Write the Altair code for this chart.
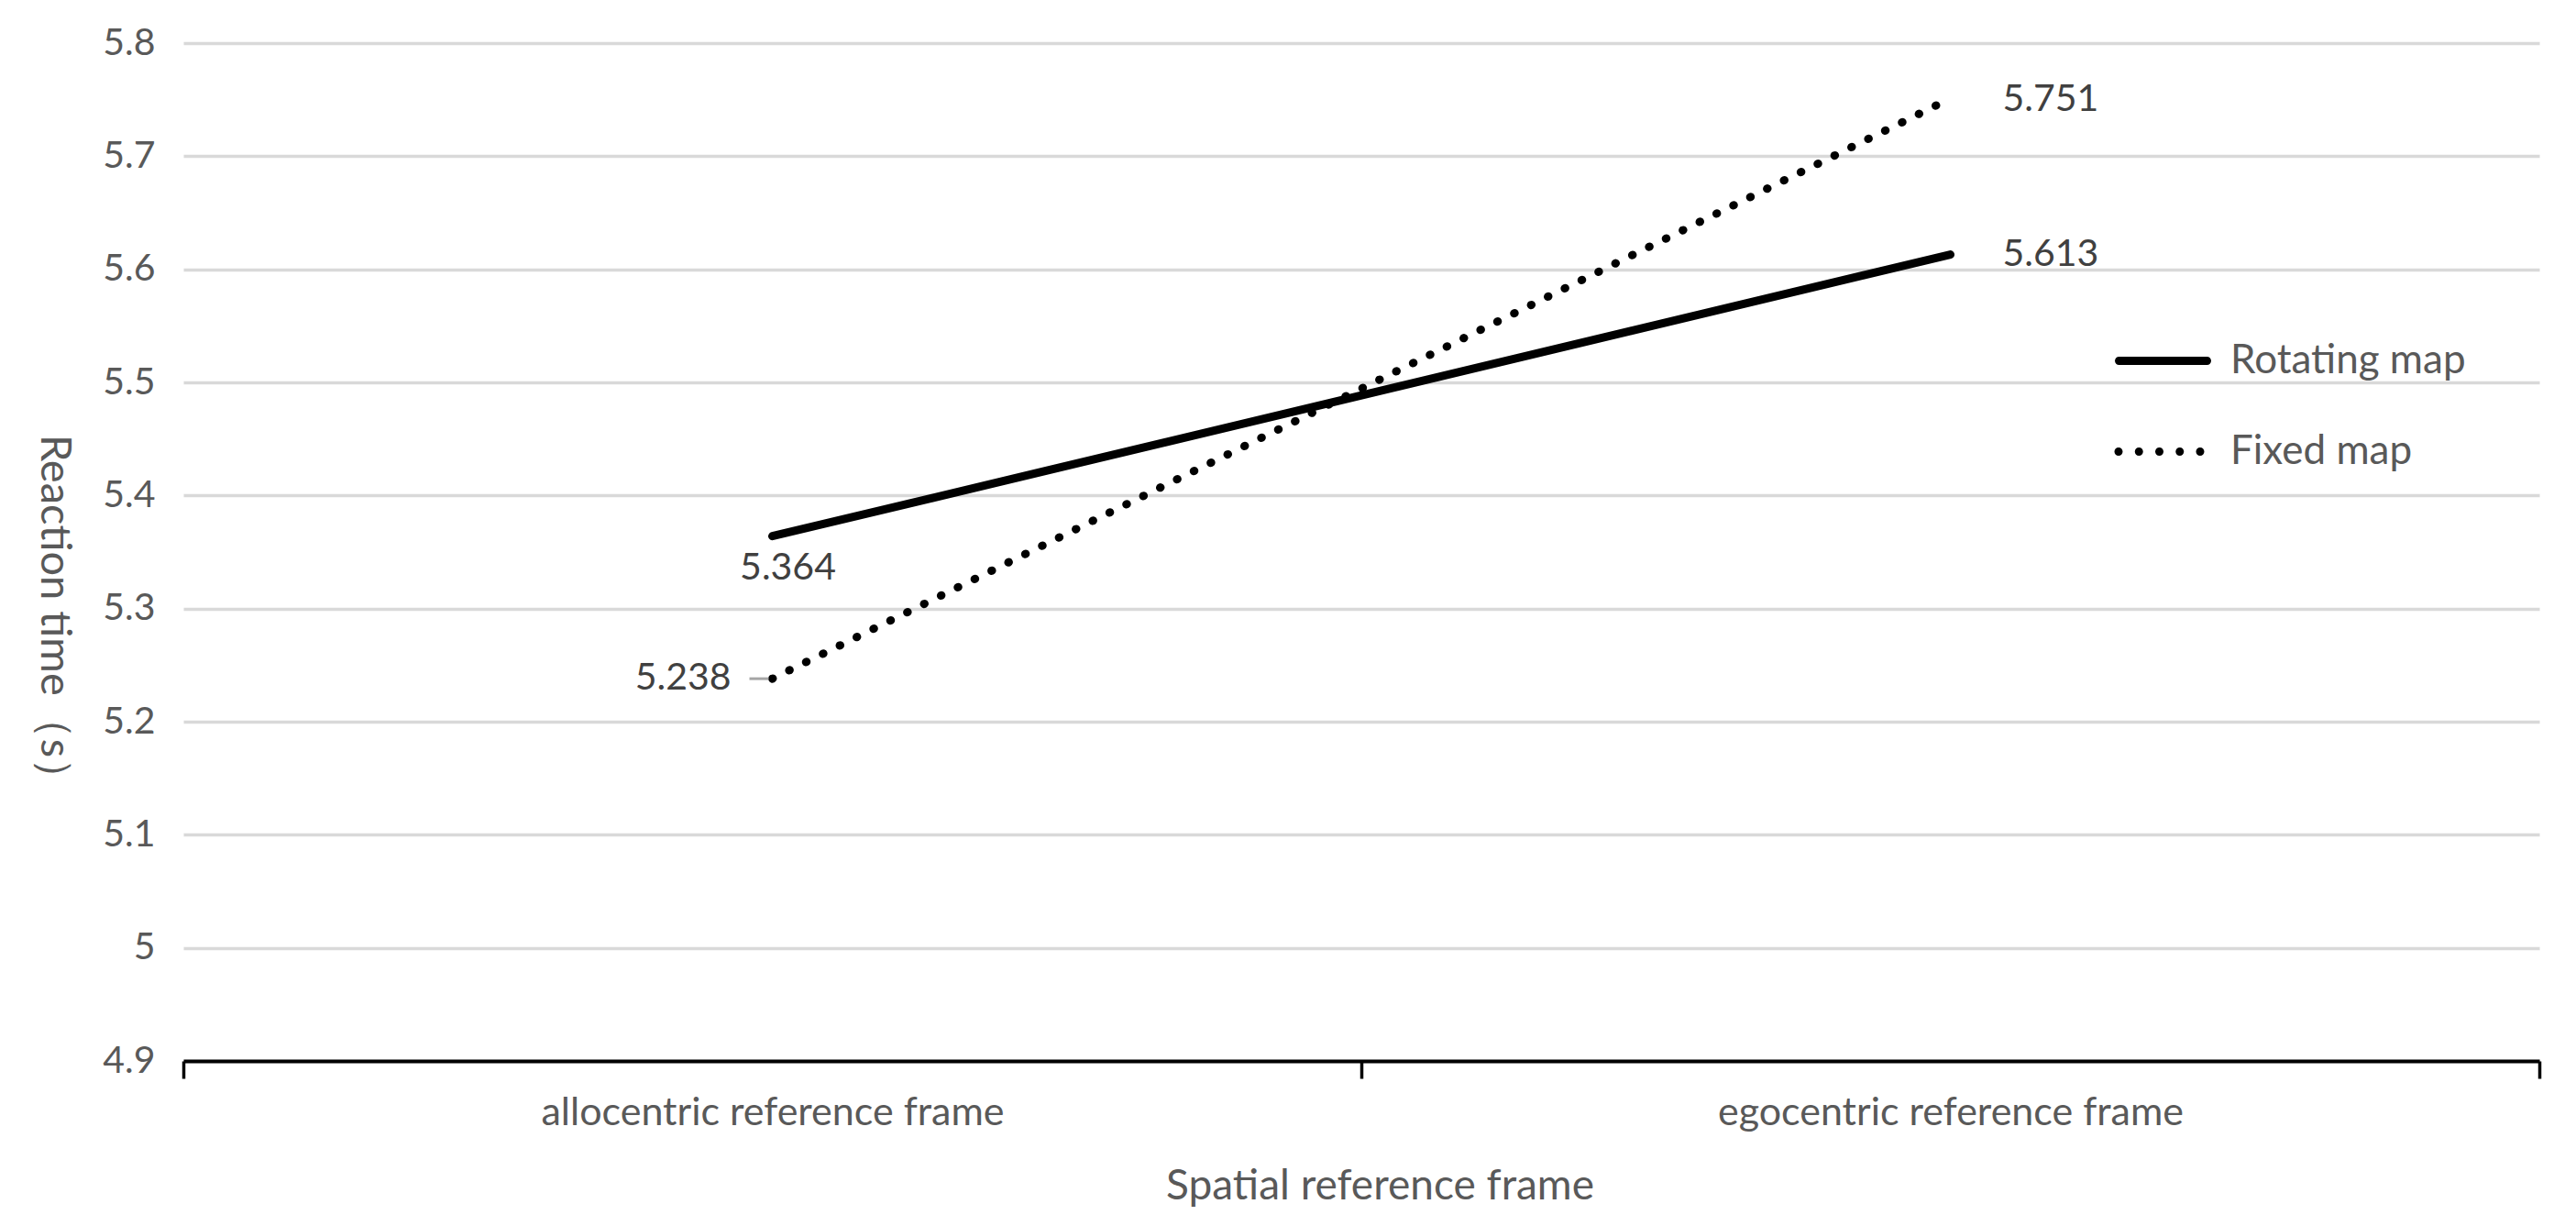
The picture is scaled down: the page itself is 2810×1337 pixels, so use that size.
import altair as alt
import pandas as pd

# ---- data ----
categories = ["allocentric reference frame", "egocentric reference frame"]
series_names = ["Rotating map", "Fixed map"]
rotating_values = [5.364, 5.613]
fixed_values = [5.238, 5.751]
y_ticks = [4.9, 5.0, 5.1, 5.2, 5.3, 5.4, 5.5, 5.6, 5.7, 5.8]

rows = []
for cat, v in zip(categories, rotating_values):
    rows.append({"frame": cat, "series": series_names[0], "rt": v})
for cat, v in zip(categories, fixed_values):
    rows.append({"frame": cat, "series": series_names[1], "rt": v})
df = pd.DataFrame(rows)
df["label"] = df["rt"].map(lambda v: f"{v:.3f}")

FONT = "Lato, sans-serif"
GRAY = "#595959"
FS = 41

x = alt.X(
    "frame:N",
    sort=categories,
    scale=alt.Scale(domain=categories, paddingInner=0, paddingOuter=0),
    axis=alt.Axis(
        title="Spatial reference frame",
        labelAngle=0,
        tickBand="extent",
        domainColor="black",
        domainWidth=4,
        tickColor="black",
        tickWidth=3.5,
        tickSize=19,
        labelPadding=50,
        labelBaseline="alphabetic",
        labelFont=FONT,
        labelFontSize=43,
        labelColor=GRAY,
        labelLimit=0,
        titleFont=FONT,
        titleFontSize=46,
        titleColor=GRAY,
        titleFontWeight="normal",
        titleX=1305,
        titleAlign="center",
        titleY=150,
        titleBaseline="alphabetic",
        grid=False,
        zindex=1,
    ),
)

y = alt.Y(
    "rt:Q",
    scale=alt.Scale(domain=[4.9, 5.8], nice=False, zero=False),
    axis=alt.Axis(
        values=y_ticks,
        format=".1~f",
        title="Reaction time（s）",
        grid=True,
        gridColor="#d9d9d9",
        gridWidth=3.5,
        domain=False,
        ticks=False,
        tickSize=0,
        labelPadding=31,
        labelFont=FONT,
        labelFontSize=FS,
        labelColor=GRAY,
        titleFont=FONT,
        titleFontSize=47,
        titleColor=GRAY,
        titleFontWeight="normal",
        titleAngle=90,
        titleX=-142,
        titleY=626,
        titleBaseline="middle",
        titleAlign="center",
    ),
)

line_rot = (
    alt.Chart(df)
    .transform_filter(alt.datum.series == series_names[0])
    .mark_line(strokeWidth=9, strokeCap="round", color="black")
    .encode(x=x, y=y)
)
line_fix = (
    alt.Chart(df)
    .transform_filter(alt.datum.series == series_names[1])
    .mark_line(strokeWidth=9, strokeCap="round", strokeDash=[0.5, 20], color="black")
    .encode(x=x, y=y)
)

BAR_PATH = "M-0.914,-0.086H0.914A0.086,0.086 0 0 1 0.914,0.086H-0.914A0.086,0.086 0 0 1 -0.914,-0.086Z"
dot_centres = [-0.924, -0.5, -0.076, 0.348, 0.771]
r = 0.086
DOTS_PATH = "".join(
    f"M{c - r:.3f},0A{r},{r} 0 1 0 {c + r:.3f},0A{r},{r} 0 1 0 {c - r:.3f},0Z" for c in dot_centres
)

legend_pts = alt.Chart(df).mark_point(filled=True, size=0, color="black").encode(
    x=x,
    y=y,
    shape=alt.Shape(
        "series:N",
        scale=alt.Scale(domain=series_names, range=[BAR_PATH, DOTS_PATH]),
        legend=alt.Legend(
            title=None,
            orient="none",
            legendX=2107,
            legendY=294,
            symbolSize=11025,
            symbolOpacity=1,
            symbolFillColor="black",
            symbolStrokeWidth=0,
            labelFont=FONT,
            labelFontSize=44,
            labelColor=GRAY,
            labelOffset=21,
            labelLimit=0,
            rowPadding=24,
            padding=0,
        ),
    ),
)

leader = (
    alt.Chart(df)
    .transform_filter((alt.datum.series == series_names[1]) & (alt.datum.frame == categories[0]))
    .mark_rule(color="#a6a6a6", strokeWidth=3, xOffset=-25, x2Offset=-4)
    .encode(x=x, x2=alt.X2("frame"), y=y)
)


def label_layer(series, cat, align, dx, dy):
    return (
        alt.Chart(df)
        .transform_filter((alt.datum.series == series) & (alt.datum.frame == cat))
        .mark_text(align=align, baseline="middle", dx=dx, dy=dy, font=FONT, fontSize=FS, color="#404040")
        .encode(x=x, y=y, text="label:N")
    )


labels = [
    label_layer(series_names[0], categories[0], "center", 17, 35),
    label_layer(series_names[1], categories[0], "right", -45, 0),
    label_layer(series_names[1], categories[1], "left", 57, 2),
    label_layer(series_names[0], categories[1], "left", 57, 0),
]

chart = (
    alt.layer(line_rot, line_fix, legend_pts, leader, *labels)
    .properties(
        width=2570,
        height=1110,
        padding={"left": 192, "top": 39, "right": 32, "bottom": 172},
        autosize=alt.AutoSizeParams(type="none"),
        background="white",
    )
    .configure_view(stroke=None)
)

chart.save("out.html", embed_options={"renderer": "svg", "actions": False})
